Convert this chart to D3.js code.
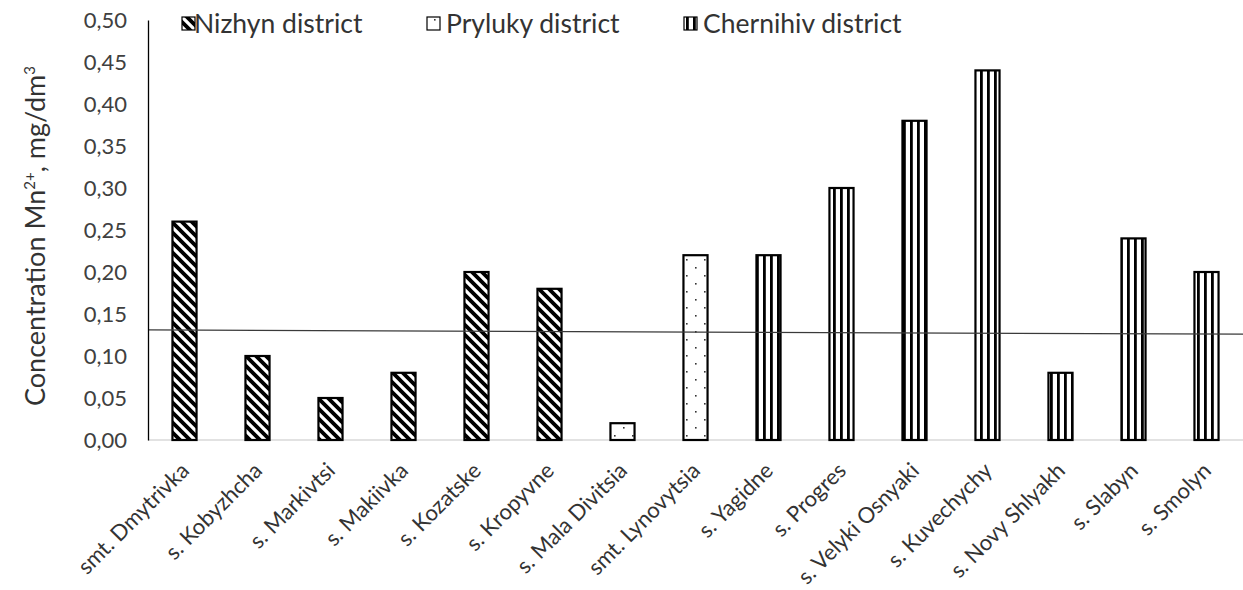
<!DOCTYPE html>
<html>
<head>
<meta charset="utf-8">
<script src="https://cdn.jsdelivr.net/npm/d3@7/dist/d3.min.js"></script>
<style>
html,body{margin:0;padding:0;background:#fff;}
svg{display:block;font-family:Lato, "Open Sans", sans-serif;}
</style>
</head>
<body>
<svg id="chart" width="1243" height="590"></svg>
<script>
const categories = ["smt. Dmytrivka","s. Kobyzhcha","s. Markivtsi","s. Makiivka","s. Kozatske","s. Kropyvne","s. Mala Divitsia","smt. Lynovytsia","s. Yagidne","s. Progres","s. Velyki Osnyaki","s. Kuvechychy","s. Novy Shlyakh","s. Slabyn","s. Smolyn"];
const values = [0.26,0.10,0.05,0.08,0.20,0.18,0.02,0.22,0.22,0.30,0.38,0.44,0.08,0.24,0.20];
const districts = ["Nizhyn","Nizhyn","Nizhyn","Nizhyn","Nizhyn","Nizhyn","Pryluky","Pryluky","Chernihiv","Chernihiv","Chernihiv","Chernihiv","Chernihiv","Chernihiv","Chernihiv"];
const legendNames = ["Nizhyn district","Pryluky district","Chernihiv district"];
const legendKeys = ["Nizhyn","Pryluky","Chernihiv"];
const yTicks = [0,0.05,0.10,0.15,0.20,0.25,0.30,0.35,0.40,0.45,0.50];
const thresholdLine = [0.131,0.126]; // value at left edge, value at right edge

const svg = d3.select("#chart");
const mLeft = 148, mRight = 1243, mTop = 20, mBottom = 440;

const x = d3.scaleBand().domain(categories).range([mLeft, mRight]).paddingInner(0.67).paddingOuter(0.335);
const y = d3.scaleLinear().domain([0,0.5]).range([mBottom, mTop]);

const defs = svg.append("defs");
const ph = defs.append("pattern").attr("id","pat-Nizhyn").attr("patternUnits","userSpaceOnUse").attr("width",10).attr("height",10);
ph.append("rect").attr("width",10).attr("height",10).attr("fill","#fff");
ph.append("path").attr("d","M-3,-3 L13,13 M-3,7 L3,13 M7,-3 L13,3").attr("stroke","#000").attr("stroke-width",3.8);
const pd = defs.append("pattern").attr("id","pat-Pryluky").attr("patternUnits","userSpaceOnUse").attr("width",18).attr("height",16);
pd.append("rect").attr("width",18).attr("height",16).attr("fill","#fff");
pd.append("rect").attr("x",2).attr("y",3).attr("width",1.6).attr("height",1.6).attr("fill","#333");
pd.append("rect").attr("x",11).attr("y",11).attr("width",1.6).attr("height",1.6).attr("fill","#333");
const pv = defs.append("pattern").attr("id","pat-Chernihiv").attr("patternUnits","userSpaceOnUse").attr("width",7).attr("height",10);
pv.append("rect").attr("width",7).attr("height",10).attr("fill","#fff");
pv.append("rect").attr("x",0).attr("width",2.8).attr("height",10).attr("fill","#000");

svg.append("line").attr("x1",mLeft).attr("x2",mRight).attr("y1",y(0)).attr("y2",y(0))
  .attr("stroke","#d9d9d9").attr("stroke-width",1.5);

const data = categories.map((c,i)=>({c, v:values[i], d:districts[i]}));
svg.append("g").selectAll("rect").data(data).join("rect")
  .attr("x", d=>x(d.c)).attr("width", x.bandwidth())
  .attr("y", d=>y(d.v)).attr("height", d=>y(0)-y(d.v))
  .attr("fill", d=>`url(#pat-${d.d})`)
  .attr("stroke","#000").attr("stroke-width",2.2);

svg.append("line").attr("x1",mLeft).attr("x2",mRight)
  .attr("y1",y(thresholdLine[0])).attr("y2",y(thresholdLine[1]))
  .attr("stroke","#3a3a3a").attr("stroke-width",1.3);

const yAxis = d3.axisLeft(y).tickValues(yTicks).tickSize(0).tickPadding(21)
  .tickFormat(d=>d3.format(".2f")(d).replace(".",","));
const ya = svg.append("g").attr("transform",`translate(${mLeft},0)`).call(yAxis);
ya.select(".domain").attr("stroke","#000").attr("stroke-width",1.3);
ya.selectAll("text").attr("font-size",22).attr("fill","#404040").attr("font-family","Lato, sans-serif");

const xAxis = d3.axisBottom(x).tickSize(0).tickPadding(0);
const xa = svg.append("g").attr("transform",`translate(0,${mBottom})`).call(xAxis);
xa.select(".domain").remove();
xa.selectAll(".tick text")
  .attr("font-size",22).attr("fill","#333").attr("font-family","Lato, sans-serif")
  .attr("text-anchor","end").attr("dy",0).attr("y",0)
  .attr("transform","translate(6,32) rotate(-45)");

svg.append("text").attr("transform","translate(45,236) rotate(-90)")
  .attr("text-anchor","middle").attr("font-size",27).attr("fill","#333")
  .attr("font-family","Lato, sans-serif")
  .call(t=>{
    t.append("tspan").text("Concentration Mn");
    t.append("tspan").attr("dy",-10).attr("font-size",15).text("2+");
    t.append("tspan").attr("dy",10).text(", mg/dm");
    t.append("tspan").attr("dy",-10).attr("font-size",15).text("3");
  });

const swatchX = [182, 427, 684];
const textX = [194, 446, 703];
const lg = svg.append("g");
legendKeys.forEach((k,i)=>{
  lg.append("rect").attr("x",swatchX[i]).attr("y",17).attr("width",13).attr("height",13)
    .attr("fill",`url(#pat-${k})`).attr("stroke","#000").attr("stroke-width",1.2);
  lg.append("text").attr("x",textX[i]).attr("y",33).attr("font-size",26.5).attr("fill","#333")
    .attr("font-family","Lato, sans-serif").text(legendNames[i]);
});
</script>
</body>
</html>
